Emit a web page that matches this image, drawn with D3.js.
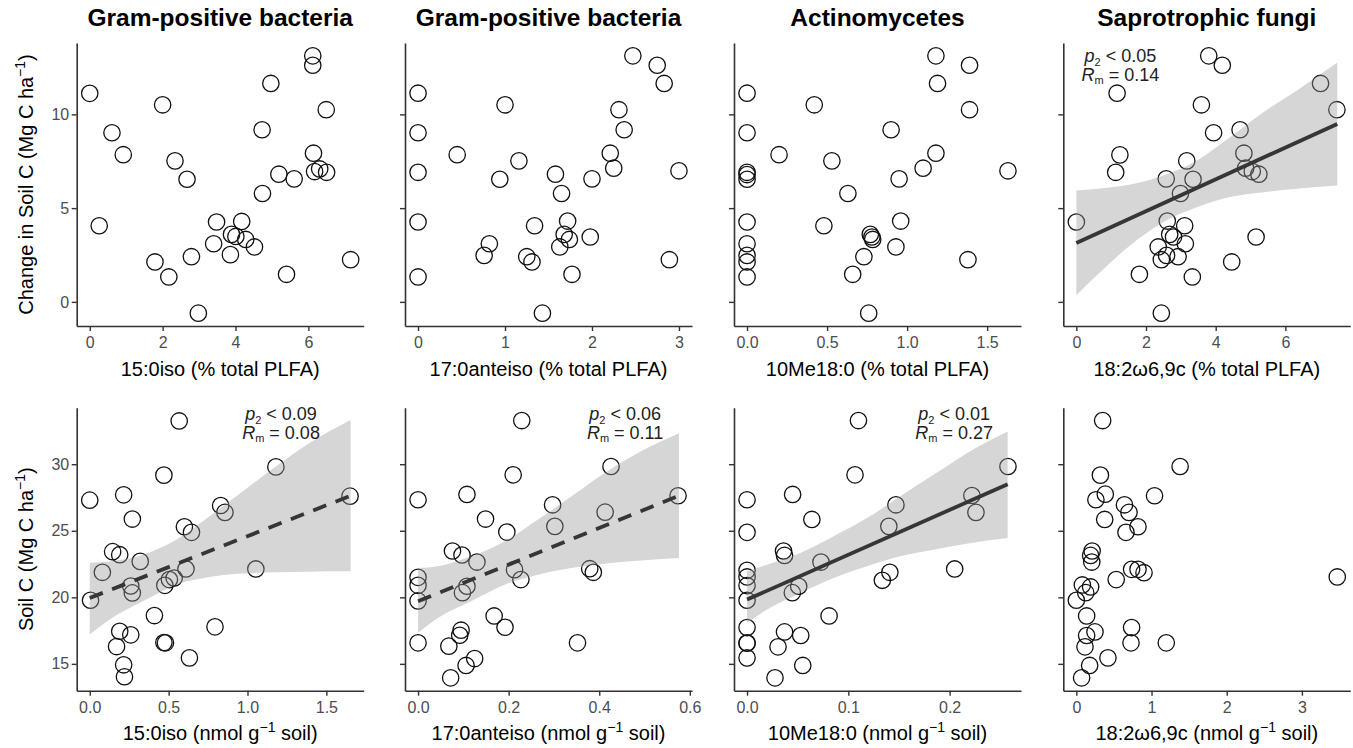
<!DOCTYPE html>
<html><head><meta charset="utf-8">
<script src="https://cdn.jsdelivr.net/npm/d3@7"></script>
<style>
body{margin:0;background:#fff}
text{font-family:"Liberation Sans",Arial,Helvetica,sans-serif}
</style>
</head><body>
<svg id="chart" width="1353" height="748"></svg>
<script>
// ---------------- DATA ----------------
const panelTitles = ["Gram-positive bacteria","Gram-positive bacteria","Actinomycetes","Saprotrophic fungi"];
const markerNames = ["15:0iso","17:0anteiso","10Me18:0","18:2\u03C96,9c"];
const yTitleTop = "Change in Soil C (Mg C ha";
const yTitleBottom = "Soil C (Mg C ha";
const yTicksTop = [0,5,10];
const yTicksBottom = [15,20,25,30];
const xTicksTop = [[0,2,4,6],[0,1,2,3],[0,0.5,1,1.5],[0,2,4,6]];
const xTicksBottom = [[0,0.5,1,1.5],[0,0.2,0.4,0.6],[0,0.1,0.2],[0,1,2,3]];
const xFmtTop = ["d","d",".1f","d"];
const xFmtBottom = [".1f",".1f",".1f","d"];

// Top row: change in soil C vs % total PLFA
const chgIso15Pct = [[0,11.12],[0.26,4.06],[0.61,9.02],[0.92,7.85],[2.0,10.51],[2.34,7.52],[2.67,6.54],[1.79,2.13],[2.17,1.33],[2.79,2.41],[2.98,-0.6],[3.40,3.10],[3.48,4.26],[3.86,2.52],[3.89,3.6],[4.01,3.49],[4.17,4.29],[4.28,3.33],[4.52,2.93],[4.73,9.18],[4.74,5.78],[4.97,11.65],[5.19,6.81],[5.61,6.56],[5.40,1.47],[6.12,13.12],[6.12,12.62],[6.14,7.93],[6.17,6.95],[6.31,7.09],[6.50,6.91],[6.49,10.25],[7.16,2.25]];
const chgAnteiso17Pct = [[0,11.13],[0,9.02],[0,6.91],[0,4.26],[0,1.33],[0.45,7.85],[1.0,10.51],[1.16,7.52],[0.94,6.54],[0.82,3.10],[0.76,2.48],[1.34,4.06],[1.25,2.41],[1.31,2.13],[1.43,-0.6],[1.58,6.81],[1.65,5.78],[1.72,4.31],[1.68,3.6],[1.74,3.33],[1.63,2.93],[1.77,1.47],[1.98,3.46],[2.0,6.56],[2.21,7.93],[2.25,7.13],[2.31,10.25],[2.37,9.18],[2.47,13.12],[2.75,12.62],[2.83,11.65],[3.0,6.99],[2.89,2.25]];
const chgMe10Pct = [[0,11.13],[0,9.02],[0,6.91],[0,6.79],[0,6.54],[0,4.26],[0,3.10],[0,2.48],[0,2.13],[0,1.33],[0.20,7.85],[0.42,10.51],[0.53,7.52],[0.48,4.06],[0.63,5.78],[0.73,2.41],[0.66,1.47],[0.76,-0.6],[0.77,3.6],[0.78,3.46],[0.785,3.33],[0.90,9.18],[0.95,6.56],[0.96,4.31],[0.93,2.93],[1.10,7.13],[1.18,7.93],[1.18,13.12],[1.19,11.65],[1.39,12.62],[1.39,10.25],[1.38,2.25],[1.63,6.99]];
const chgFungiPct = [[0,4.26],[1.17,11.13],[1.25,7.84],[1.13,6.91],[1.81,1.47],[2.44,-0.6],[2.35,2.93],[2.44,2.25],[2.59,2.48],[2.61,4.31],[2.68,3.6],[2.79,3.46],[2.92,2.41],[3.13,3.10],[3.11,4.06],[2.58,6.56],[2.99,5.78],[3.35,6.54],[3.17,7.52],[3.33,1.33],[3.59,10.51],[3.80,13.12],[4.19,12.62],[3.94,9.02],[4.46,2.13],[4.70,9.18],[4.81,7.93],[4.86,7.13],[5.05,6.95],[5.24,6.81],[5.16,3.46],[7.01,11.65],[7.48,10.25]];

// Bottom row: soil C vs nmol g-1 soil
const socIso15Nmol = [[0,27.3],[0.005,19.78],[0.08,21.88],[0.145,23.43],[0.19,23.2],[0.215,27.7],[0.27,25.88],[0.26,20.85],[0.27,20.33],[0.32,22.7],[0.19,17.45],[0.26,17.18],[0.17,16.3],[0.215,14.93],[0.22,14.03],[0.41,18.63],[0.47,29.18],[0.476,20.9],[0.505,21.33],[0.535,21.45],[0.47,16.6],[0.48,16.58],[0.567,33.25],[0.61,22.13],[0.60,25.3],[0.645,24.88],[0.632,15.45],[0.794,17.78],[0.83,26.9],[0.857,26.38],[1.053,22.13],[1.18,29.8],[1.65,27.6]];
const socAnteiso17Nmol = [[0,27.33],[0,21.5],[0,20.9],[0,19.73],[0,16.58],[0.108,27.73],[0.076,23.48],[0.097,23.18],[0.13,22.65],[0.108,20.83],[0.098,20.35],[0.095,17.53],[0.092,17.15],[0.068,16.33],[0.106,14.88],[0.125,15.4],[0.072,13.95],[0.149,25.88],[0.168,18.6],[0.192,17.75],[0.196,24.9],[0.21,29.2],[0.213,22.08],[0.227,21.33],[0.229,33.28],[0.297,26.95],[0.302,25.33],[0.352,16.58],[0.379,22.15],[0.387,21.88],[0.413,26.4],[0.426,29.83],[0.574,27.63]];
const socMe10Nmol = [[0,27.33],[0,24.88],[0,22.03],[0,21.53],[0,20.88],[0,19.78],[0,17.73],[0,16.58],[0,16.55],[0,15.45],[0.0276,13.95],[0.0306,16.28],[0.037,17.4],[0.036,23.48],[0.037,23.15],[0.045,27.73],[0.0447,20.35],[0.051,20.83],[0.053,17.13],[0.055,14.88],[0.064,25.85],[0.073,22.65],[0.081,18.6],[0.1066,29.2],[0.11,33.28],[0.1336,21.28],[0.141,21.88],[0.14,25.33],[0.147,26.95],[0.205,22.13],[0.222,27.65],[0.226,26.38],[0.2576,29.83]];
const socFungiNmol = [[0.35,33.28],[1.38,29.83],[0.32,29.18],[1.04,27.63],[0.385,27.75],[0.26,27.33],[0.64,26.95],[0.70,26.38],[0.377,25.85],[0.82,25.3],[0.66,24.88],[0.21,23.48],[0.19,23.15],[0.205,22.65],[0.735,22.1],[0.82,22.1],[0.90,21.85],[0.53,21.33],[3.47,21.53],[0.08,20.93],[0.19,20.78],[0.125,20.35],[0.0,19.78],[0.137,18.6],[0.248,17.4],[0.137,17.13],[0.735,17.73],[0.727,16.58],[1.196,16.58],[0.115,16.28],[0.42,15.45],[0.177,14.88],[0.07,13.95]];

// Fitted lines and confidence bands
const fitFungiPctX = [0, 7.49], fitFungiPctY = [3.14, 9.49];
const bandFungiPctX  = [0, 0.59, 1.55, 2.5, 3.46, 4.41, 5.37, 6.32, 7.49];
const bandFungiPctLo = [0.36, 1.42, 3.02, 4.26, 5.05, 5.59, 5.85, 6.03, 6.21];
const bandFungiPctHi = [5.94, 6.03, 6.26, 6.74, 7.54, 8.78, 10.11, 11.26, 12.77];

const fitIso15NmolX = [0, 1.654], fitIso15NmolY = [19.95, 27.63];
const bandIso15NmolX  = [0, 0.126, 0.337, 0.548, 0.758, 0.969, 1.18, 1.39, 1.654];
const bandIso15NmolLo = [17.2, 18.33, 19.7, 20.95, 21.53, 21.78, 21.88, 21.93, 21.95];
const bandIso15NmolHi = [22.6, 22.7, 23.2, 24.33, 26.08, 27.95, 29.83, 31.58, 33.33];

const fitAnteiso17NmolX = [0, 0.576], fitAnteiso17NmolY = [19.7, 27.63];
const bandAnteiso17NmolX  = [0, 0.044, 0.117, 0.191, 0.264, 0.338, 0.411, 0.484, 0.576];
const bandAnteiso17NmolLo = [17.33, 18.45, 19.7, 20.95, 21.7, 22.2, 22.53, 22.75, 22.95];
const bandAnteiso17NmolHi = [22.2, 22.33, 23.08, 24.2, 25.83, 27.58, 29.33, 30.83, 32.33];

const fitMe10NmolX = [0, 0.2573], fitMe10NmolY = [19.83, 28.5];
const bandMe10NmolX  = [0, 0.0198, 0.0527, 0.0855, 0.1184, 0.151, 0.184, 0.217, 0.2573];
const bandMe10NmolLo = [18.08, 19.08, 20.33, 21.45, 22.33, 23.08, 23.58, 24.03, 24.45];
const bandMe10NmolHi = [21.95, 22.45, 23.33, 24.58, 25.95, 27.58, 29.2, 30.83, 32.45];

// Statistics labels
const statP = ["0.05","0.09","0.06","0.01"];
const statR = ["0.14","0.08","0.11","0.27"];

// ---------------- LAYOUT ----------------
const panelLeft = [76.7, 405, 734, 1063.3];
const panelW = 287, panelH = 283;
const rowTop = [43, 407.7];
const font = '"Liberation Sans",Arial,Helvetica,sans-serif';
const axisCol = "#333333";

const svg = d3.select("#chart");

const zip = (xs, ys) => xs.map((x,i)=>({x:x, y:ys[i]}));
const bandOf = (xs, lo, hi) => xs.map((x,i)=>({x:x, lo:lo[i], hi:hi[i]}));

const panels = [
  {row:0,col:0,pts:chgIso15Pct},
  {row:0,col:1,pts:chgAnteiso17Pct},
  {row:0,col:2,pts:chgMe10Pct},
  {row:0,col:3,pts:chgFungiPct, fit:zip(fitFungiPctX,fitFungiPctY), band:bandOf(bandFungiPctX,bandFungiPctLo,bandFungiPctHi), dashed:false, stat:0, statFx:0.199, statY:[61.5,80.7]},
  {row:1,col:0,pts:socIso15Nmol, fit:zip(fitIso15NmolX,fitIso15NmolY), band:bandOf(bandIso15NmolX,bandIso15NmolLo,bandIso15NmolHi), dashed:true, stat:1, statFx:0.712, statY:[419.5,438.5]},
  {row:1,col:1,pts:socAnteiso17Nmol, fit:zip(fitAnteiso17NmolX,fitAnteiso17NmolY), band:bandOf(bandAnteiso17NmolX,bandAnteiso17NmolLo,bandAnteiso17NmolHi), dashed:true, stat:2, statFx:0.767, statY:[419.5,438.5]},
  {row:1,col:2,pts:socMe10Nmol, fit:zip(fitMe10NmolX,fitMe10NmolY), band:bandOf(bandMe10NmolX,bandMe10NmolLo,bandMe10NmolHi), dashed:false, stat:3, statFx:0.767, statY:[419.5,438.5]},
  {row:1,col:3,pts:socFungiNmol}
];

function expand(ext){ const r = ext[1]-ext[0]; return [ext[0]-0.05*r, ext[1]+0.05*r]; }

const rowY = [0,1].map(r=>{
  const ys = panels.filter(p=>p.row===r).flatMap(p=>p.pts.map(d=>d[1]));
  return expand(d3.extent(ys));
});

panels.forEach(p=>{
  const left = panelLeft[p.col], top = rowTop[p.row];
  let xs = p.pts.map(d=>d[0]);
  if (p.band) xs = xs.concat(p.band.map(d=>d.x));
  const sx = d3.scaleLinear().domain(expand(d3.extent(xs))).range([left, left+panelW]);
  const sy = d3.scaleLinear().domain(rowY[p.row]).range([top+panelH, top]);
  const g = svg.append("g");

  // points
  g.selectAll("circle.pt").data(p.pts).join("circle")
    .attr("cx", d=>sx(d[0])).attr("cy", d=>sy(d[1])).attr("r", 8.2)
    .attr("fill","none").attr("stroke","#111").attr("stroke-width",1.3);

  // band + fit
  if (p.band){
    const area = d3.area().x(d=>sx(d.x)).y0(d=>sy(d.lo)).y1(d=>sy(d.hi)).curve(d3.curveMonotoneX);
    g.append("path").datum(p.band).attr("d", area).attr("fill","#999999").attr("fill-opacity",0.4);
    const line = d3.line().x(d=>sx(d.x)).y(d=>sy(d.y));
    g.append("path").datum(p.fit).attr("d", line).attr("fill","none")
      .attr("stroke","#363636").attr("stroke-width",3.8)
      .attr("stroke-dasharray", p.dashed ? "14,10" : null);
  }

  // axes
  const xTicks = p.row===0 ? xTicksTop[p.col] : xTicksBottom[p.col];
  const xFmt = p.row===0 ? xFmtTop[p.col] : xFmtBottom[p.col];
  const ax = d3.axisBottom(sx).tickValues(xTicks).tickFormat(d3.format(xFmt)).tickSizeInner(5).tickSizeOuter(0).tickPadding(5.5);
  const gx = g.append("g").attr("transform",`translate(0,${top+panelH})`).call(ax);
  const yTicks = p.row===0 ? yTicksTop : yTicksBottom;
  const ay = d3.axisLeft(sy).tickValues(yTicks).tickSizeInner(5).tickSizeOuter(0).tickPadding(2.5)
    .tickFormat(p.col===0 ? d3.format("d") : ()=> "");
  const gy = g.append("g").attr("transform",`translate(${left},0)`).call(ay);
  [gx,gy].forEach(a=>{
    a.attr("font-family", font).attr("font-size", 16);
    a.select(".domain").attr("stroke", axisCol).attr("stroke-width", 1.6);
    a.selectAll(".tick line").attr("stroke", axisCol).attr("stroke-width", 1.4);
    a.selectAll(".tick text").attr("fill", "#4d4d4d");
  });

  // x axis title
  const cx = left + panelW/2;
  const xt = g.append("text").attr("x", cx).attr("y", top+panelH+49.5)
    .attr("text-anchor","middle").attr("font-size",20).attr("fill","#000");
  if (p.row===0){
    xt.text(markerNames[p.col] + " (% total PLFA)");
  } else {
    xt.append("tspan").text(markerNames[p.col] + " (nmol g");
    xt.append("tspan").attr("dy",-8).attr("font-size",14).text("\u22121");
    xt.append("tspan").attr("dy",8).text(" soil)");
  }

  // panel title
  if (p.row===0){
    g.append("text").attr("x", cx).attr("y", 26).attr("text-anchor","middle")
      .attr("font-size",24.5).attr("font-weight","bold").attr("fill","#000").text(panelTitles[p.col]);
  }

  // statistics
  if (p.stat !== undefined){
    const sxp = left + p.statFx*panelW;
    const t1 = g.append("text").attr("x", sxp).attr("y", p.statY[0]).attr("text-anchor","middle")
      .attr("font-size",18).attr("fill","#222");
    t1.append("tspan").attr("font-style","italic").text("p");
    t1.append("tspan").attr("font-size",11).attr("dy",4).text("2");
    t1.append("tspan").attr("dy",-4).text(" < " + statP[p.stat]);
    const t2 = g.append("text").attr("x", sxp).attr("y", p.statY[1]).attr("text-anchor","middle")
      .attr("font-size",18).attr("fill","#222");
    t2.append("tspan").attr("font-style","italic").text("R");
    t2.append("tspan").attr("font-size",11).attr("dy",3).text("m");
    t2.append("tspan").attr("dy",-3).text(" = " + statR[p.stat]);
  }
});

// y axis titles
[[yTitleTop,0],[yTitleBottom,1]].forEach(([lab,r])=>{
  const cy = rowTop[r] + panelH/2;
  const t = svg.append("text").attr("transform",`translate(33,${cy}) rotate(-90)`)
    .attr("text-anchor","middle").attr("font-size",20).attr("fill","#000");
  t.append("tspan").text(lab);
  t.append("tspan").attr("dy",-8).attr("font-size",14).text("\u22121");
  t.append("tspan").attr("dy",8).text(")");
});
</script>
</body></html>
